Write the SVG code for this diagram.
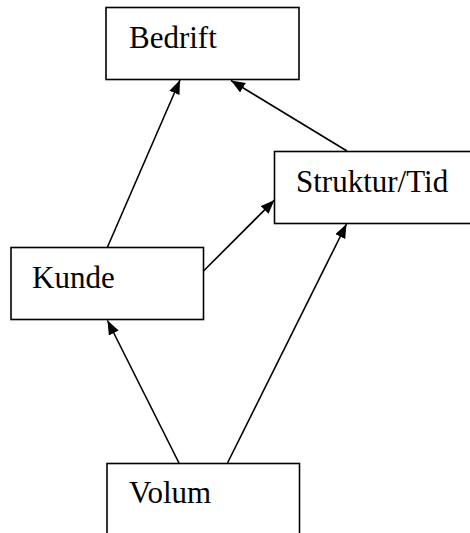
<svg xmlns="http://www.w3.org/2000/svg" width="470" height="533" viewBox="0 0 470 533">
<defs>
<style>
.box{fill:#fff;stroke:#000;stroke-width:1.6}
.lbl{font-family:"Liberation Serif","Times New Roman",serif;font-size:31px;fill:#000}
.edge{stroke:#000;stroke-width:1.6;fill:none;marker-end:url(#arr)}
</style>
<marker id="arr" markerUnits="userSpaceOnUse" markerWidth="16" markerHeight="12" refX="14" refY="5.5" orient="auto">
<path d="M0,0 L14,5.5 L0,11 z" fill="#000"/>
</marker>
</defs>
<rect width="470" height="533" fill="#fff"/>
<g id="bedrift">
<rect class="box" x="106" y="7.5" width="193" height="72"/>
<text class="lbl" x="129" y="47.5">Bedrift</text>
</g>
<g id="struktur">
<rect class="box" x="274.5" y="151.5" width="210" height="72"/>
<text class="lbl" x="296" y="192">Struktur/Tid</text>
</g>
<g id="kunde">
<rect class="box" x="11" y="247.5" width="192.5" height="72"/>
<text class="lbl" x="32" y="287.5">Kunde</text>
</g>
<g id="volum">
<rect class="box" x="107" y="463.5" width="192.5" height="90"/>
<text class="lbl" x="129" y="503">Volum</text>
</g>
<g id="connectors">
<line class="edge" x1="107.5" y1="247" x2="180" y2="80"/>
<line class="edge" x1="347" y1="151" x2="231" y2="80.5"/>
<line class="edge" x1="203.5" y1="271" x2="274.5" y2="200"/>
<line class="edge" x1="179" y1="463" x2="107.5" y2="320.5"/>
<line class="edge" x1="227.5" y1="463" x2="346.5" y2="224"/>
</g>
</svg>
